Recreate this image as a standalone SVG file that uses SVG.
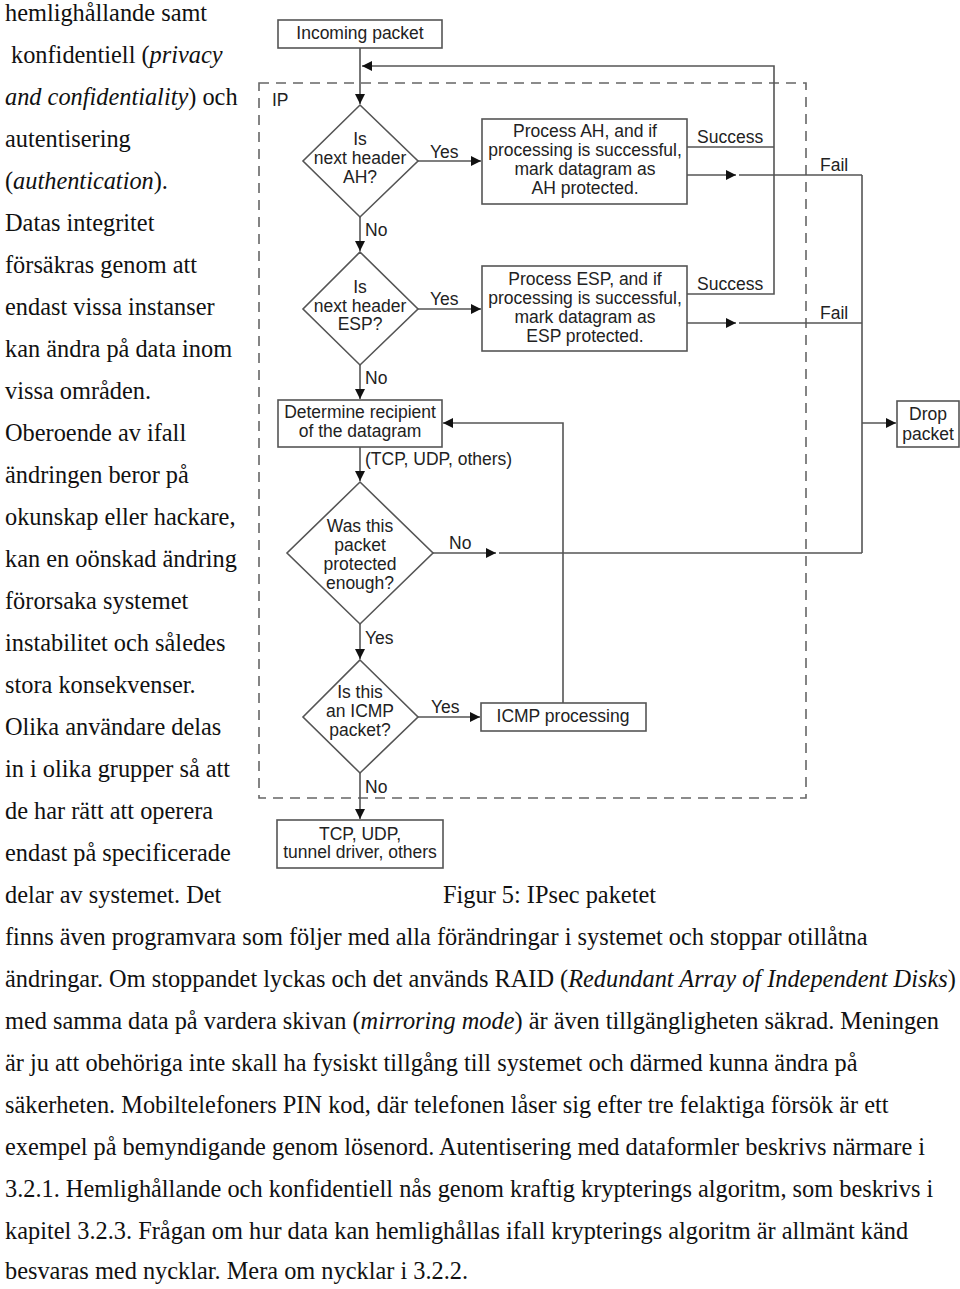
<svg xmlns="http://www.w3.org/2000/svg" width="960" height="1289" viewBox="0 0 960 1289">
<defs>
<marker id="arr" viewBox="0 0 10 10" markerWidth="10" markerHeight="10" refX="10" refY="5" orient="auto" markerUnits="userSpaceOnUse">
<path d="M0,0 L10,5 L0,10 z" fill="#111"/>
</marker>
</defs>
<style>
.body{font-family:"Liberation Serif","Times New Roman",serif;font-size:24.35px;fill:#111}
.it{font-style:italic}
.lbl{font-family:"Liberation Sans",Arial,sans-serif;font-size:17.5px;fill:#222}
.ctr{text-anchor:middle}
.box{fill:#fff;stroke:#555;stroke-width:1.6}
.ln{fill:none;stroke:#555;stroke-width:1.6}
.dash{fill:none;stroke:#666;stroke-width:1.6;stroke-dasharray:10 7}
</style>
<rect width="960" height="1289" fill="#fff"/>

<g id="text-left" class="body">
<text x="5" y="21">hemlighållande samt</text>
<text x="11" y="63">konfidentiell (<tspan class="it">privacy</tspan></text>
<text x="5" y="105"><tspan class="it">and confidentiality</tspan>) och</text>
<text x="5" y="147">autentisering</text>
<text x="5" y="189">(<tspan class="it">authentication</tspan>).</text>
<text x="5" y="231">Datas integritet</text>
<text x="5" y="273">försäkras genom att</text>
<text x="5" y="315">endast vissa instanser</text>
<text x="5" y="357">kan ändra på data inom</text>
<text x="5" y="399">vissa områden.</text>
<text x="5" y="441">Oberoende av ifall</text>
<text x="5" y="483">ändringen beror på</text>
<text x="5" y="525">okunskap eller hackare,</text>
<text x="5" y="567">kan en oönskad ändring</text>
<text x="5" y="609">förorsaka systemet</text>
<text x="5" y="651">instabilitet och således</text>
<text x="5" y="693">stora konsekvenser.</text>
<text x="5" y="735">Olika användare delas</text>
<text x="5" y="777">in i olika grupper så att</text>
<text x="5" y="819">de har rätt att operera</text>
<text x="5" y="861">endast på specificerade</text>
<text x="5" y="903">delar av systemet. Det</text>
<text x="443" y="903">Figur 5: IPsec paketet</text>
<text x="5" y="945">finns även programvara som följer med alla förändringar i systemet och stoppar otillåtna</text>
<text x="5" y="987">ändringar. Om stoppandet lyckas och det används RAID (<tspan class="it">Redundant Array of Independent Disks</tspan>)</text>
<text x="5" y="1029">med samma data på vardera skivan (<tspan class="it">mirroring mode</tspan>) är även tillgängligheten säkrad. Meningen</text>
<text x="5" y="1071">är ju att obehöriga inte skall ha fysiskt tillgång till systemet och därmed kunna ändra på</text>
<text x="5" y="1113">säkerheten. Mobiltelefoners PIN kod, där telefonen låser sig efter tre felaktiga försök är ett</text>
<text x="5" y="1155">exempel på bemyndigande genom lösenord. Autentisering med dataformler beskrivs närmare i</text>
<text x="5" y="1197">3.2.1. Hemlighållande och konfidentiell nås genom kraftig krypterings algoritm, som beskrivs i</text>
<text x="5" y="1239">kapitel 3.2.3. Frågan om hur data kan hemlighållas ifall krypterings algoritm är allmänt känd</text>
<text x="5" y="1279">besvaras med nycklar. Mera om nycklar i 3.2.2.</text>
</g>

<g id="ip-region">
<rect class="dash" x="259" y="83" width="547" height="715"/>
<text class="lbl" x="272" y="106">IP</text>
</g>

<g id="connectors">
<path class="ln" d="M360,48 V104" marker-end="url(#arr)"/>
<path class="ln" d="M687,147 H774"/>
<path class="ln" d="M687,294 H774 V66 H362" marker-end="url(#arr)"/>
<path class="ln" d="M418,161 H481" marker-end="url(#arr)"/>
<path class="ln" d="M360,217 V251" marker-end="url(#arr)"/>
<path class="ln" d="M418,309 H481" marker-end="url(#arr)"/>
<path class="ln" d="M360,365 V399" marker-end="url(#arr)"/>
<path class="ln" d="M687,175 H736" marker-end="url(#arr)"/>
<path class="ln" d="M739,175 H862"/>
<path class="ln" d="M687,323 H736" marker-end="url(#arr)"/>
<path class="ln" d="M739,323 H862"/>
<path class="ln" d="M862,175 V553"/>
<path class="ln" d="M862,423 H896" marker-end="url(#arr)"/>
<path class="ln" d="M433,553 H496" marker-end="url(#arr)"/>
<path class="ln" d="M499,553 H862"/>
<path class="ln" d="M360,447 V481" marker-end="url(#arr)"/>
<path class="ln" d="M360,624 V659" marker-end="url(#arr)"/>
<path class="ln" d="M418,717 H480" marker-end="url(#arr)"/>
<path class="ln" d="M563,703 V423 H443" marker-end="url(#arr)"/>
<path class="ln" d="M360,773 V819" marker-end="url(#arr)"/>
<g class="lbl">
<text x="430" y="158">Yes</text>
<text x="365" y="236">No</text>
<text x="430" y="305">Yes</text>
<text x="365" y="384">No</text>
<text x="365" y="465">(TCP, UDP, others)</text>
<text x="449" y="549">No</text>
<text x="365" y="644">Yes</text>
<text x="431" y="713">Yes</text>
<text x="365" y="793">No</text>
<text x="697" y="143">Success</text>
<text x="820" y="171">Fail</text>
<text x="697" y="290">Success</text>
<text x="820" y="319">Fail</text>
</g>
</g>

<g id="incoming">
<rect class="box" x="278" y="20" width="164" height="28"/>
<text class="lbl ctr" x="360" y="39">Incoming packet</text>
</g>

<g id="is-ah">
<polygon class="box" points="360,105 418,161 360,217 303,161"/>
<text class="lbl ctr" x="360" y="145">Is</text>
<text class="lbl ctr" x="360" y="164">next header</text>
<text class="lbl ctr" x="360" y="183">AH?</text>
</g>

<g id="process-ah">
<rect class="box" x="482" y="119" width="205" height="85"/>
<text class="lbl ctr" x="585" y="137">Process AH, and if</text>
<text class="lbl ctr" x="585" y="156">processing is successful,</text>
<text class="lbl ctr" x="585" y="175">mark datagram as</text>
<text class="lbl ctr" x="585" y="194">AH protected.</text>
</g>

<g id="is-esp">
<polygon class="box" points="360,252 418,309 360,365 303,309"/>
<text class="lbl ctr" x="360" y="293">Is</text>
<text class="lbl ctr" x="360" y="312">next header</text>
<text class="lbl ctr" x="360" y="330">ESP?</text>
</g>

<g id="process-esp">
<rect class="box" x="482" y="266" width="205" height="85"/>
<text class="lbl ctr" x="585" y="285">Process ESP, and if</text>
<text class="lbl ctr" x="585" y="304">processing is successful,</text>
<text class="lbl ctr" x="585" y="323">mark datagram as</text>
<text class="lbl ctr" x="585" y="342">ESP protected.</text>
</g>

<g id="drop">
<rect class="box" x="897" y="401" width="62" height="46"/>
<text class="lbl ctr" x="928" y="420">Drop</text>
<text class="lbl ctr" x="928" y="440">packet</text>
</g>

<g id="determine">
<rect class="box" x="278" y="400" width="164" height="47"/>
<text class="lbl ctr" x="360" y="418">Determine recipient</text>
<text class="lbl ctr" x="360" y="437">of the datagram</text>
</g>

<g id="protected">
<polygon class="box" points="360,482 433,553 360,624 287,553"/>
<text class="lbl ctr" x="360" y="532">Was this</text>
<text class="lbl ctr" x="360" y="551">packet</text>
<text class="lbl ctr" x="360" y="570">protected</text>
<text class="lbl ctr" x="360" y="589">enough?</text>
</g>

<g id="is-icmp">
<polygon class="box" points="360,660 418,717 360,773 303,717"/>
<text class="lbl ctr" x="360" y="698">Is this</text>
<text class="lbl ctr" x="360" y="717">an ICMP</text>
<text class="lbl ctr" x="360" y="736">packet?</text>
</g>

<g id="icmp">
<rect class="box" x="481" y="703" width="165" height="28"/>
<text class="lbl ctr" x="563" y="722">ICMP processing</text>
</g>

<g id="tcp">
<rect class="box" x="277" y="820" width="166" height="48"/>
<text class="lbl ctr" x="360" y="840">TCP, UDP,</text>
<text class="lbl ctr" x="360" y="858">tunnel driver, others</text>
</g>
</svg>
